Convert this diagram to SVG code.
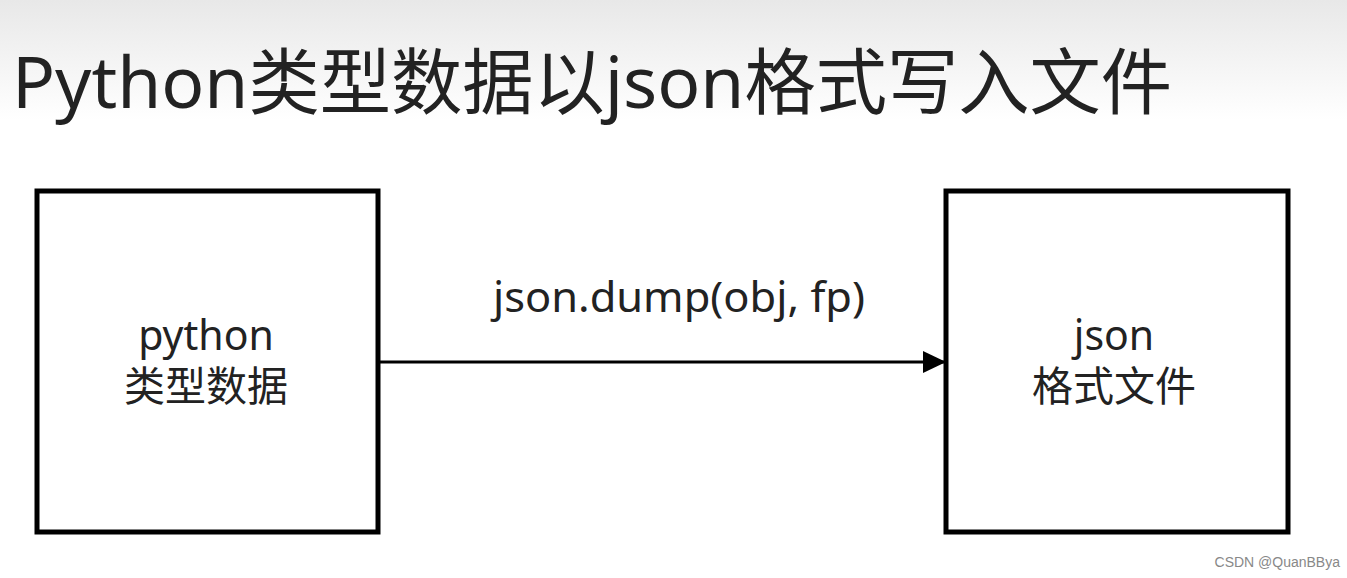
<svg xmlns="http://www.w3.org/2000/svg" width="1347" height="578" viewBox="0 0 1347 578">
<defs>
<linearGradient id="bg" x1="0" y1="0" x2="0" y2="1"><stop offset="0" stop-color="#e8e8e8"/><stop offset="1" stop-color="#ffffff"/></linearGradient>
<marker id="ah" markerWidth="24" markerHeight="24" refX="22" refY="12" orient="auto" markerUnits="userSpaceOnUse"><path d="M0,1 L23,12 L0,23 Z" fill="#000"/></marker>
<style>
text{font-family:"Noto Sans","Noto Sans CJK SC",sans-serif;fill:#222;}
.box{fill:#fff;stroke:#000;stroke-width:5;}
.lbl{font-size:41px;text-anchor:middle;}
</style>
</defs>
<rect width="1347" height="578" fill="#fff"/>
<rect width="1347" height="120" fill="url(#bg)"/>
<text x="12" y="108" font-size="72" textLength="1160" lengthAdjust="spacingAndGlyphs" fill="#333">Python类型数据以json格式写入文件</text>
<g id="connectors">
<line x1="380" y1="362" x2="945" y2="362" stroke="#000" stroke-width="3" marker-end="url(#ah)"/>
<text class="lbl" x="679" y="312" textLength="372" lengthAdjust="spacingAndGlyphs">json.dump(obj, fp)</text>
</g>
<g id="node-python">
<rect class="box" x="37" y="191" width="341" height="341"/>
<text class="lbl" x="206" y="350">python</text>
<text class="lbl" x="206" y="401">类型数据</text>
</g>
<g id="node-json">
<rect class="box" x="946" y="191" width="342" height="341"/>
<text class="lbl" x="1114" y="350">json</text>
<text class="lbl" x="1114" y="401">格式文件</text>
</g>
<text x="1340" y="567" font-size="14" text-anchor="end" style="font-family:'Liberation Sans',sans-serif;fill:#888">CSDN @QuanBBya</text>
</svg>
